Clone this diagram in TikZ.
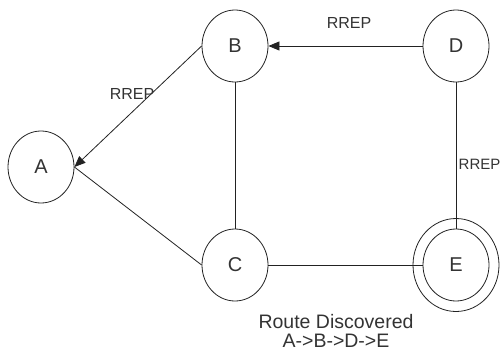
\documentclass[tikz,border=0pt]{standalone}
\usepackage{fontspec}
\setmainfont{Liberation Sans}
\usetikzlibrary{arrows.meta,shapes.geometric}
\definecolor{ink}{HTML}{222222}
\definecolor{txt}{HTML}{333333}
\begin{document}
\begin{tikzpicture}[x=1pt,y=-1pt,
  station/.style={ellipse,draw=ink,line width=0.8pt,minimum width=66pt,minimum height=72pt,inner sep=0pt,
    font=\fontsize{20}{24}\selectfont,text=txt},
  link/.style={draw=ink,line width=0.8pt},
  reply/.style={link,-{Triangle[length=11pt,width=9pt]}},
  tag/.style={font=\fontsize{16}{19}\selectfont,text=txt,inner sep=0pt}]
\useasboundingbox (0,0) rectangle (502,356);
% stations
\node[station] (A) at (41,167) {A};
\node[station] (B) at (235,46) {B};
\node[station] (C) at (235,265) {C};
\node[station] (D) at (456,46) {D};
\node[station] (E) at (456,265) {E};
\node[ellipse,draw=ink,line width=0.8pt,minimum width=86pt,minimum height=93pt] (Eout) at (E.center) {};
% links
\draw[link] (A.east) -- (C.west);
\draw[link] (B.south) -- (C.north);
\draw[link] (C.east) -- (E.west);
\draw[link] (D.south) -- (E.north);
% route replies
\draw[reply] (B.west) -- (A.east);
\draw[reply] (D.west) -- (B.east);
% labels
\node[tag] (r1) at (132,94) {RREP};
\node[tag] (r2) at (349,23) {RREP};
\node[tag,anchor=west,font=\fontsize{15}{18}\selectfont] (r3) at (458.5,164) {RREP};
\node[align=center,text=txt,font=\fontsize{19.5}{19}\selectfont,inner sep=0pt] (route) at (336,331)
  {Route Discovered\\A->B->D->E};
\end{tikzpicture}
\end{document}
